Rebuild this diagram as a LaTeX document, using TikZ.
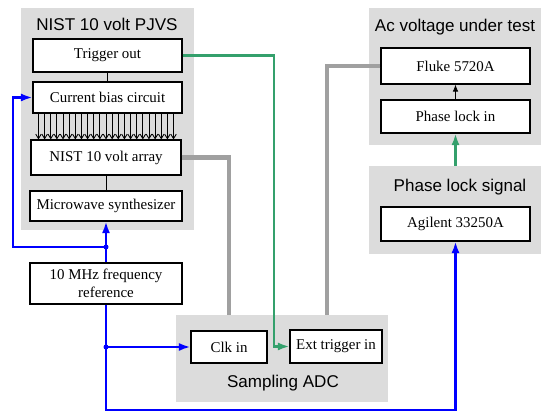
\documentclass[tikz,border=0pt]{standalone}
\usepackage{fontspec}
\setmainfont{Liberation Serif}
\setsansfont{Liberation Sans}
\usepackage{xcolor}
\usepackage{tikz}
\usetikzlibrary{arrows.meta, positioning}
\definecolor{panelgray}{RGB}{220,220,220}
\definecolor{cablegray}{RGB}{160,160,160}
\definecolor{syncgreen}{RGB}{52,160,108}
\definecolor{refblue}{RGB}{0,0,255}

\begin{document}
\begin{tikzpicture}[
          x=0.02cm, y=-0.02cm,
          panel/.style={
            rectangle, fill=panelgray, draw=none, inner sep=0pt
          },
          title/.style={font=\sffamily\fontsize{9.7}{11}\selectfont, inner sep=0pt},
          box/.style={
            rectangle, draw=black, fill=white, line width=0.6pt,
            minimum width=2.98cm, inner sep=1pt, align=center,
            font=\rmfamily\fontsize{8.5}{10}\selectfont
          },
          wire/.style={line width=0.5pt, color=black},
          bus/.style={-{Straight Barb[length=0.9mm,width=1.1mm]}, line width=0.5pt},
          cable/.style={line width=2.3pt, color=cablegray},
          sync/.style={line width=1.5pt, color=syncgreen},
          ref/.style={line width=1.5pt, color=refblue},
          tip/.style={-{Latex[length=2.3mm,width=1.6mm]}},
          dot/.style={circle, fill=refblue, inner sep=0pt, minimum size=0.1cm}
        ]
          \useasboundingbox (0,0) rectangle (541,411);

          \node[panel, minimum width=3.46cm, minimum height=4.44cm] (pjvs) at (107.5,119) {};
          \node[panel, minimum width=3.44cm, minimum height=2.74cm] (acgrp) at (455,76.5) {};
          \node[panel, minimum width=3.44cm, minimum height=1.76cm] (plsgrp) at (455,210) {};
          \node[panel, minimum width=4.24cm, minimum height=1.74cm] (adc) at (282,358.5) {};

          \node[title] (pjvst) at (107,24)  {NIST 10 volt PJVS};
          \node[title] (act)   at (455,27)  {Ac voltage under test};
          \node[title] (plst)  at (460,187) {Phase lock signal};
          \node[title] (adct)  at (283,383) {Sampling ADC};

          \node[box, minimum height=0.66cm] (trig)  at (107.5,55.5) {Trigger out};
          \node[box, minimum height=0.62cm] (bias)  at (107.5,97.5) {Current bias circuit};
          \node[box, minimum height=0.70cm, minimum width=3.0cm] (array) at (106,157.5) {NIST 10 volt array};
          \node[box, minimum height=0.60cm, minimum width=3.04cm] (micro) at (106,206) {Microwave synthesizer};
          \node[box, minimum height=0.82cm, minimum width=3.04cm] (freq)  at (106,283.5) {10 MHz frequency\\reference};
          \node[box, minimum height=0.72cm] (fluke) at (455.5,66)   {Fluke 5720A};
          \node[box, minimum height=0.66cm] (plin)  at (455.5,116.5) {Phase lock in};
          \node[box, minimum height=0.68cm] (agil)  at (455.5,224)  {Agilent 33250A};
          \node[box, minimum height=0.64cm, minimum width=1.52cm] (clk) at (229,347) {Clk in};
          \node[box, minimum height=0.66cm, minimum width=1.84cm] (ext) at (336,346.5) {Ext trigger in};

          \coordinate (gdown) at (274,0);
          \coordinate (fdown) at (327,0);
          \coordinate (bleft) at (13,0);
          \coordinate (bbot)  at (0,410);
          \coordinate (jtop)  at (106,247);
          \coordinate (jlow)  at (freq |- clk.west);

          \draw[wire] (trig) -- (bias);
          \draw[wire] (array) -- (micro);
          \draw[wire, -{Latex[length=1.4mm,width=1.1mm]}] (plin) -- (fluke);
          \foreach \i in {0,...,22}
            \draw[bus] ([xshift=0.12cm+\i*0.1228cm]bias.south west)
                    -- ([xshift=0.12cm+\i*0.1228cm]bias.south west |- array.north);

          \draw[cable] (array.east) -| (clk |- adc.north);
          \draw[cable] (fluke.west) -| (fdown |- adc.north);

          \draw[sync, tip] (trig.east) -| (gdown |- ext.west) -- (ext.west);
          \draw[sync, tip] (plsgrp.north -| plin) -- (plin.south);

          \draw[ref, tip] (freq.north) -- (freq.north |- micro.south);
          \draw[ref, tip] (jtop) -| (bleft |- bias.west) -- (bias.west);
          \draw[ref, tip] (jlow) -- (clk.west);
          \draw[ref, tip] (freq.south) -- (freq.south |- bbot) -| (agil.south);
          \node[dot] (jtopdot) at (jtop) {};
          \node[dot] (jlowdot) at (jlow) {};
        \end{tikzpicture}
\end{document}
